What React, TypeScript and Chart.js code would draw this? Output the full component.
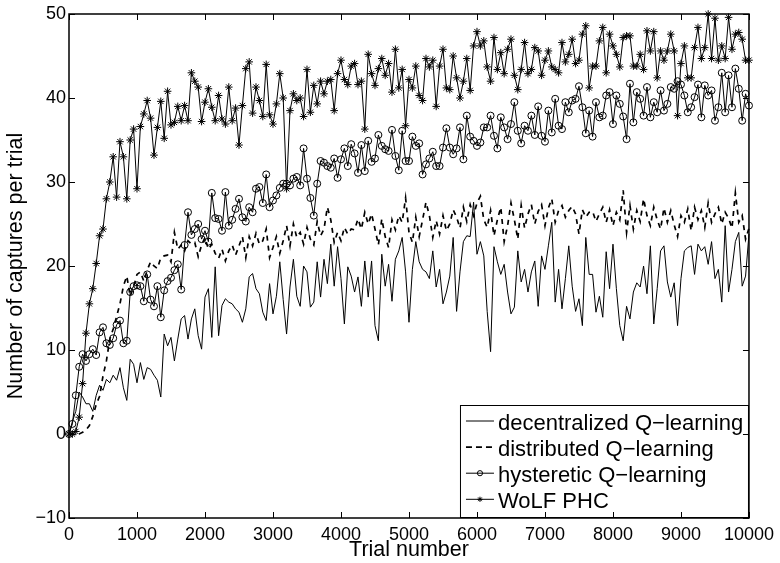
import React, { useEffect, useRef } from "react";
import { Chart, registerables } from "chart.js";

Chart.register(...registerables);

// ---------- data ----------
const TRIAL_STEP = 50;
const TRIALS: number[] = Array.from({ length: 201 }, (_, i) => i * TRIAL_STEP);

const X_TICKS = [0, 1000, 2000, 3000, 4000, 5000, 6000, 7000, 8000, 9000, 10000];
const Y_TICKS = [-10, 0, 10, 20, 30, 40, 50];

const SERIES_LABELS = [
  "decentralized Q\u2212learning",
  "distributed Q\u2212learning",
  "hysteretic Q\u2212learning",
  "WoLF PHC",
];

const X_TITLE = "Trial number";
const Y_TITLE = "Number of captures per trial";

const DECENTRALIZED = [
  0, 1.5, 2.7, 5, 4.4, 3.6, 3.6, 2.7, 4.6, 5.8,
  5.2, 6.5, 6.1, 7, 6.4, 7.9, 5.5, 4, 8.9, 8.3,
  6.1, 8.5, 6.5, 7.9, 7.7, 7, 6.4, 4.4, 11.9, 10.5,
  11.5, 8.7, 11.3, 13.7, 14.1, 11.3, 13.7, 14.9, 11.7, 10.1,
  16.3, 17.3, 11.5, 19.9, 11.7, 15.3, 16.1, 15.7, 15.5, 14.9,
  14.5, 13.3, 14.9, 18.7, 19.1, 17.3, 16.7, 14.5, 13.5, 17.9,
  14.3, 16.4, 20.5, 16, 11.9, 17.5, 20.8, 16.4, 15.2, 20,
  19.3, 15.1, 15.7, 20.5, 16.3, 20.8, 17.9, 22.6, 17.6, 22.3,
  18.5, 13.1, 19.9, 18.8, 16.9, 18.7, 15.2, 20.6, 16.3, 20.6,
  12.9, 11.1, 21.4, 17.6, 20.2, 15.8, 20.8, 21.8, 23.4, 19.3,
  13.3, 19.6, 22.9, 20.5, 19.6, 19.3, 18.5, 21.8, 17.5, 19.6,
  15.5, 16.9, 18.8, 23.4, 14.6, 19.3, 22.9, 23.6, 23.5, 27.6,
  21.4, 22.9, 21.2, 14.6, 9.8, 22.3, 20.5, 19, 20.2, 16.9,
  14.3, 15.1, 21.8, 18.1, 19.6, 16.9, 19.3, 20.6, 15.2, 21.2,
  19.6, 22.4, 25.2, 15.7, 19.6, 14.9, 18.5, 22.4, 17.6, 14.6,
  16.1, 12.9, 23.4, 19, 19, 14.5, 16.4, 13.9, 21.7, 17.3,
  22.6, 17.3, 12.9, 11.1, 15.2, 13.7, 16.9, 18, 17.5, 20,
  16.7, 22.4, 13.1, 17.3, 21.8, 22.4, 18.1, 16.3, 18, 12.9,
  18.5, 21.8, 22.2, 22.4, 19, 22.6, 21.8, 22.3, 20.2, 22.9,
  18.5, 19.6, 15.7, 24.8, 16.9, 19.6, 22.9, 24, 17.6, 18.8,
  23.8,
];

const DISTRIBUTED = [
  0, 0, 0, 0, 0.2, 0.5, 1, 2.1, 3.5, 4.5,
  6.9, 8.7, 11.3, 12.5, 14, 15.5, 17.6, 18.8, 16.4, 17.5,
  19, 19.3, 18.2, 19.5, 20.5, 20, 19.7, 21, 21.2, 21.3,
  20.5, 24, 22, 22.5, 21.8, 23, 22.6, 22.8, 21.1, 22.5,
  23.4, 22, 22.6, 21.5, 20.9, 22, 20.6, 21.8, 22.5, 21.3,
  22.4, 23.5, 21, 23.5, 22.4, 23.9, 22.6, 23, 24.4, 21,
  22.2, 23.5, 21.5, 23, 24.8, 22.4, 25, 23.4, 24, 22.6,
  24.6, 23.2, 22.5, 25.3, 23.6, 24.4, 27, 25.5, 22.8, 24,
  23, 24.6, 23.8, 24.4, 24.3, 25.6, 24.4, 26.4, 25, 26.2,
  24.4, 22.5, 25.6, 23.5, 22.2, 25.5, 24.3, 26, 25.2, 28.1,
  24, 22.8, 25.8, 23.5, 25.5, 27.6, 26, 23.4, 25.4, 23.8,
  26, 24.2, 25, 26.7, 25.8, 24.5, 27, 25.3, 27.3, 26,
  27.5, 28.3, 25.5, 24.6, 26.6, 23.6, 25.5, 27, 22.9, 24.8,
  27.5, 25.5, 23.2, 27.2, 24.5, 26.2, 27.3, 25, 26.5, 27.3,
  24.8, 26.9, 28, 25.2, 26.6, 27.2, 25.8, 26.6, 27.1, 26.2,
  23.8, 26.7, 25.8, 26.4, 26.5, 25.3, 26.2, 27, 25.2, 26.7,
  24.8, 26.4, 25.5, 29, 24, 27.2, 24.4, 26.6, 25.3, 28,
  26, 24.8, 27, 25.5, 24.4, 26.9, 25.2, 26.6, 24.9, 23.5,
  26, 25.2, 26.8, 24.2, 27, 25.5, 26.6, 24.6, 27.5, 25.2,
  26.2, 27, 25, 26.4, 25.7, 24.5, 28.7, 25.2, 26, 23.2,
  24.5,
];

const HYSTERETIC = [
  0, 1.2, 4.6, 8, 9.5, 8.7, 9.5, 10.1, 9.4, 12.1,
  12.7, 10.8, 10.6, 11.4, 13, 13.5, 10.8, 11.1, 16.9, 17.6,
  17.7, 17.6, 15.8, 19, 16, 15.2, 17.6, 13.9, 17.1, 18.2,
  18.6, 19.5, 20.2, 17.2, 22.5, 26.4, 23.7, 24.4, 25, 23.2,
  24.2, 22.9, 28.7, 25.7, 25.6, 24.2, 28.8, 24.8, 25.5, 26.8,
  28, 25.8, 25.3, 27, 26.4, 29.2, 29.4, 27.5, 30.9, 27,
  27.8, 28.4, 29.3, 29.8, 29.8, 29.6, 30.4, 30.6, 29.6, 34,
  30.4, 28.1, 26, 29.8, 32.5, 32.3, 31.9, 31.7, 32.8, 30.5,
  32.7, 34, 31.9, 34.5, 33.4, 31.1, 34.4, 31.3, 34.9, 32.4,
  32.8, 35.6, 34.3, 33.9, 33.7, 36.2, 33.1, 31.4, 36.1, 32.5,
  32.5, 35.4, 34.3, 34.6, 30.9, 32.1, 32.8, 33.6, 31.9, 31.9,
  34.1, 36.4, 34.1, 33.3, 34, 36.5, 32.7, 37.9, 35.4, 34.9,
  34.3, 34.7, 36.5, 36.5, 37.9, 35.5, 34, 37.7, 36.5, 35.1,
  36.9, 39.5, 36.1, 34.6, 36.7, 36.1, 37.9, 35.6, 39, 35.5,
  34.8, 38.5, 35.9, 39.9, 36.7, 36.3, 39.5, 38.3, 39.7, 39.9,
  41.4, 38.9, 35.8, 38.5, 35.4, 39.5, 37.7, 37.9, 40.3, 40.7,
  36.9, 40.3, 39.3, 37.8, 35.1, 41.7, 37.1, 40.7, 39.9, 37.9,
  41.3, 37.7, 39.5, 38.3, 40.9, 38.5, 39.3, 41.3, 41.1, 42,
  41.6, 40.3, 38.3, 38.9, 40.1, 41.6, 37.7, 41.5, 40.3, 40.9,
  37.3, 38.9, 43, 38.3, 42.7, 38.9, 43.5, 41.1, 37.3, 40.5,
  39.1,
];

const WOLF_PHC = [
  0, 0, 0.3, 2, 6, 12, 15.5, 17.3, 20.3, 23.6,
  24.4, 28, 30, 33, 28.2, 34.8, 33, 28, 35, 36.3,
  29.2, 36.6, 38.1, 39.7, 37.6, 33.2, 36.5, 39.6, 35.2, 40.8,
  36.8, 37.1, 39, 37.3, 39.1, 37.3, 43, 42, 41.3, 37.2,
  39.5, 41.1, 38.9, 37.3, 40.3, 37.5, 36.9, 41.3, 37.3, 38.8,
  34.4, 39.1, 43.5, 44.3, 38.2, 41.3, 39.7, 37.8, 44, 38,
  36.9, 39.3, 42.9, 40, 29.2, 38.5, 40.5, 39.7, 40, 37.8,
  43.4, 38.3, 41.5, 39.3, 42, 40.5, 42, 42.2, 38.5, 42.9,
  44.5, 42.2, 41.6, 43.8, 44.1, 41.6, 42, 36.3, 45.2, 42.9,
  41.5, 43.5, 44.7, 42.7, 44.1, 40.7, 45.8, 41.2, 43.4, 36.7,
  42.2, 41.2, 43.8, 40.3, 39.7, 44.7, 43.7, 44.5, 39, 43.8,
  45.8, 41.2, 41, 45, 42.4, 40, 42, 44.7, 40.9, 46.2,
  47.9, 46.2, 46.8, 43.7, 42, 47.2, 43.4, 45.4, 42.9, 45.8,
  47, 42.7, 41, 43.4, 46.6, 42.9, 43.4, 46, 45.6, 42.7,
  44.5, 45.6, 43.7, 43.4, 43, 46.6, 44.3, 45.2, 47, 44.1,
  44.5, 47.6, 48.6, 41.2, 43.8, 43.8, 46.8, 48.4, 43, 47.6,
  46.2, 45.2, 43.7, 47.2, 47.4, 47.4, 43.8, 43.8, 45.2, 43.4,
  48, 45.6, 47.9, 42.4, 45.6, 44.5, 45.6, 47.6, 45.6, 37.9,
  44.1, 46.2, 42.4, 42.4, 46, 48.4, 44.7, 46, 50, 44.7,
  49.5, 44.5, 46.2, 44.7, 49.6, 45.8, 47.6, 47.8, 47, 44.5,
  44.5,
];

// ---------- styling ----------
const FONT = '"Liberation Sans", Arial, Helvetica, sans-serif';

const fmtTick = (v: number | string) => {
  const n = Number(v);
  return n < 0 ? "\u2212" + String(Math.abs(n)) : String(n);
};

const toPoints = (ys: number[]) => TRIALS.map((t, i) => ({ x: t, y: ys[i] }));

const LEGEND_STYLES = [
  { dash: [] as number[], width: 1, marker: "none" },
  { dash: [6, 4], width: 1.7, marker: "none" },
  { dash: [] as number[], width: 1, marker: "circle" },
  { dash: [] as number[], width: 1, marker: "star" },
];

function drawMarker(ctx: CanvasRenderingContext2D, kind: string, cx: number, cy: number, r: number) {
  ctx.save();
  ctx.setLineDash([]);
  ctx.lineWidth = 1;
  ctx.strokeStyle = "#000";
  ctx.beginPath();
  if (kind === "circle") {
    ctx.arc(cx, cy, r, 0, Math.PI * 2);
  } else if (kind === "star") {
    ctx.moveTo(cx - r, cy);
    ctx.lineTo(cx + r, cy);
    ctx.moveTo(cx, cy - r);
    ctx.lineTo(cx, cy + r);
    const d = r * Math.SQRT1_2;
    ctx.moveTo(cx - d, cy - d);
    ctx.lineTo(cx + d, cy + d);
    ctx.moveTo(cx - d, cy + d);
    ctx.lineTo(cx + d, cy - d);
  }
  ctx.stroke();
  ctx.restore();
}

const framePlugin = {
  id: "matlabFrame",
  afterDatasetsDraw(chart: any) {
    const { ctx, chartArea: a, scales } = chart;
    const x = scales.x;
    const y = scales.y;

    // legend box (inside, bottom-right)
    const boxW = 289;
    const boxH = 113;
    const bx = a.right - boxW;
    const by = a.bottom - boxH;
    ctx.save();
    ctx.fillStyle = "#fff";
    ctx.fillRect(bx, by, boxW, boxH);
    ctx.strokeStyle = "#000";
    ctx.lineWidth = 1;
    ctx.strokeRect(bx + 0.5, by + 0.5, boxW - 1, boxH - 1);
    ctx.font = `22px ${FONT}`;
    ctx.fillStyle = "#000";
    ctx.textBaseline = "alphabetic";
    ctx.textAlign = "left";
    SERIES_LABELS.forEach((label, i) => {
      const st = LEGEND_STYLES[i];
      const ly = by + 16 + i * 26.1;
      ctx.save();
      ctx.strokeStyle = "#000";
      ctx.lineWidth = st.width;
      ctx.setLineDash(st.dash);
      ctx.beginPath();
      ctx.moveTo(bx + 6, ly);
      ctx.lineTo(bx + 34, ly);
      ctx.stroke();
      ctx.restore();
      if (st.marker !== "none") drawMarker(ctx, st.marker, bx + 20, ly, 2.6);
      ctx.fillText(label, bx + 38, ly + 8.5);
    });
    ctx.restore();

    // inward ticks on all four sides + box
    const L = 6;
    ctx.save();
    ctx.strokeStyle = "#000";
    ctx.lineWidth = 1;
    ctx.beginPath();
    X_TICKS.forEach((v) => {
      const px = Math.round(x.getPixelForValue(v)) + 0.5;
      ctx.moveTo(px, a.bottom);
      ctx.lineTo(px, a.bottom - L);
      ctx.moveTo(px, a.top);
      ctx.lineTo(px, a.top + L);
    });
    Y_TICKS.forEach((v) => {
      const py = Math.round(y.getPixelForValue(v)) + 0.5;
      ctx.moveTo(a.left, py);
      ctx.lineTo(a.left + L, py);
      ctx.moveTo(a.right, py);
      ctx.lineTo(a.right - L, py);
    });
    ctx.stroke();
    ctx.lineWidth = 1.5;
    ctx.strokeRect(a.left, a.top, a.right - a.left, a.bottom - a.top);
    ctx.restore();
  },
};

export default function App() {
  const canvasRef = useRef<HTMLCanvasElement | null>(null);

  useEffect(() => {
    const canvas = canvasRef.current;
    if (!canvas) return;
    const base = {
      borderColor: "#000",
      backgroundColor: "#000",
      fill: false,
      tension: 0,
      clip: false as any,
    };
    const chart = new Chart(canvas, {
      type: "line",
      data: {
        datasets: [
          {
            ...base,
            label: SERIES_LABELS[0],
            data: toPoints(DECENTRALIZED),
            borderWidth: 1,
            pointRadius: 0,
          },
          {
            ...base,
            label: SERIES_LABELS[1],
            data: toPoints(DISTRIBUTED),
            borderWidth: 1.7,
            borderDash: [5, 5],
            pointRadius: 0,
          },
          {
            ...base,
            label: SERIES_LABELS[2],
            data: toPoints(HYSTERETIC),
            borderWidth: 1,
            pointStyle: "circle",
            pointRadius: 3.5,
            pointBorderWidth: 1,
            pointBorderColor: "#000",
            pointBackgroundColor: "rgba(0,0,0,0)",
          },
          {
            ...base,
            label: SERIES_LABELS[3],
            data: toPoints(WOLF_PHC),
            borderWidth: 1,
            pointStyle: "star",
            pointRadius: 3.8,
            pointBorderWidth: 1,
            pointBorderColor: "#000",
            pointBackgroundColor: "#000",
          },
        ] as any,
      },
      options: {
        responsive: false,
        animation: false,
        events: [],
        layout: { padding: { top: 14, right: 27, left: 0, bottom: 0 } },
        plugins: {
          legend: { display: false },
          tooltip: { enabled: false },
        },
        scales: {
          x: {
            type: "linear",
            min: 0,
            max: 10000,
            afterBuildTicks: (s: any) => {
              s.ticks = X_TICKS.map((v) => ({ value: v }));
            },
            afterFit: (s: any) => {
              s.height = 45;
            },
            ticks: {
              autoSkip: false,
              maxRotation: 0,
              padding: 6,
              color: "#000",
              font: { family: FONT, size: 18 },
              callback: (v: any) => fmtTick(v),
            },
            grid: { display: false, drawTicks: false, tickLength: 0 },
            border: { display: false },
            title: {
              display: true,
              text: X_TITLE,
              color: "#000",
              font: { family: FONT, size: 21.5 },
              padding: { top: 0, bottom: 0 },
            },
          },
          y: {
            type: "linear",
            min: -10,
            max: 50,
            afterBuildTicks: (s: any) => {
              s.ticks = Y_TICKS.map((v) => ({ value: v }));
            },
            afterFit: (s: any) => {
              s.width = 69;
            },
            ticks: {
              autoSkip: false,
              padding: 3,
              color: "#000",
              font: { family: FONT, size: 18 },
              callback: (v: any) => fmtTick(v),
            },
            grid: { display: false, drawTicks: false, tickLength: 0 },
            border: { display: false },
            title: {
              display: true,
              text: Y_TITLE,
              color: "#000",
              font: { family: FONT, size: 21.5 },
              padding: { top: 3, bottom: 0 },
            },
          },
        },
      } as any,
      plugins: [framePlugin],
    });
    return () => chart.destroy();
  }, []);

  return (
    <div style={{ position: "fixed", left: 0, top: 0, width: 780, height: 563, background: "#fff" }}>
      <canvas ref={canvasRef} width={780} height={563} style={{ display: "block", width: 780, height: 563 }} />
    </div>
  );
}
